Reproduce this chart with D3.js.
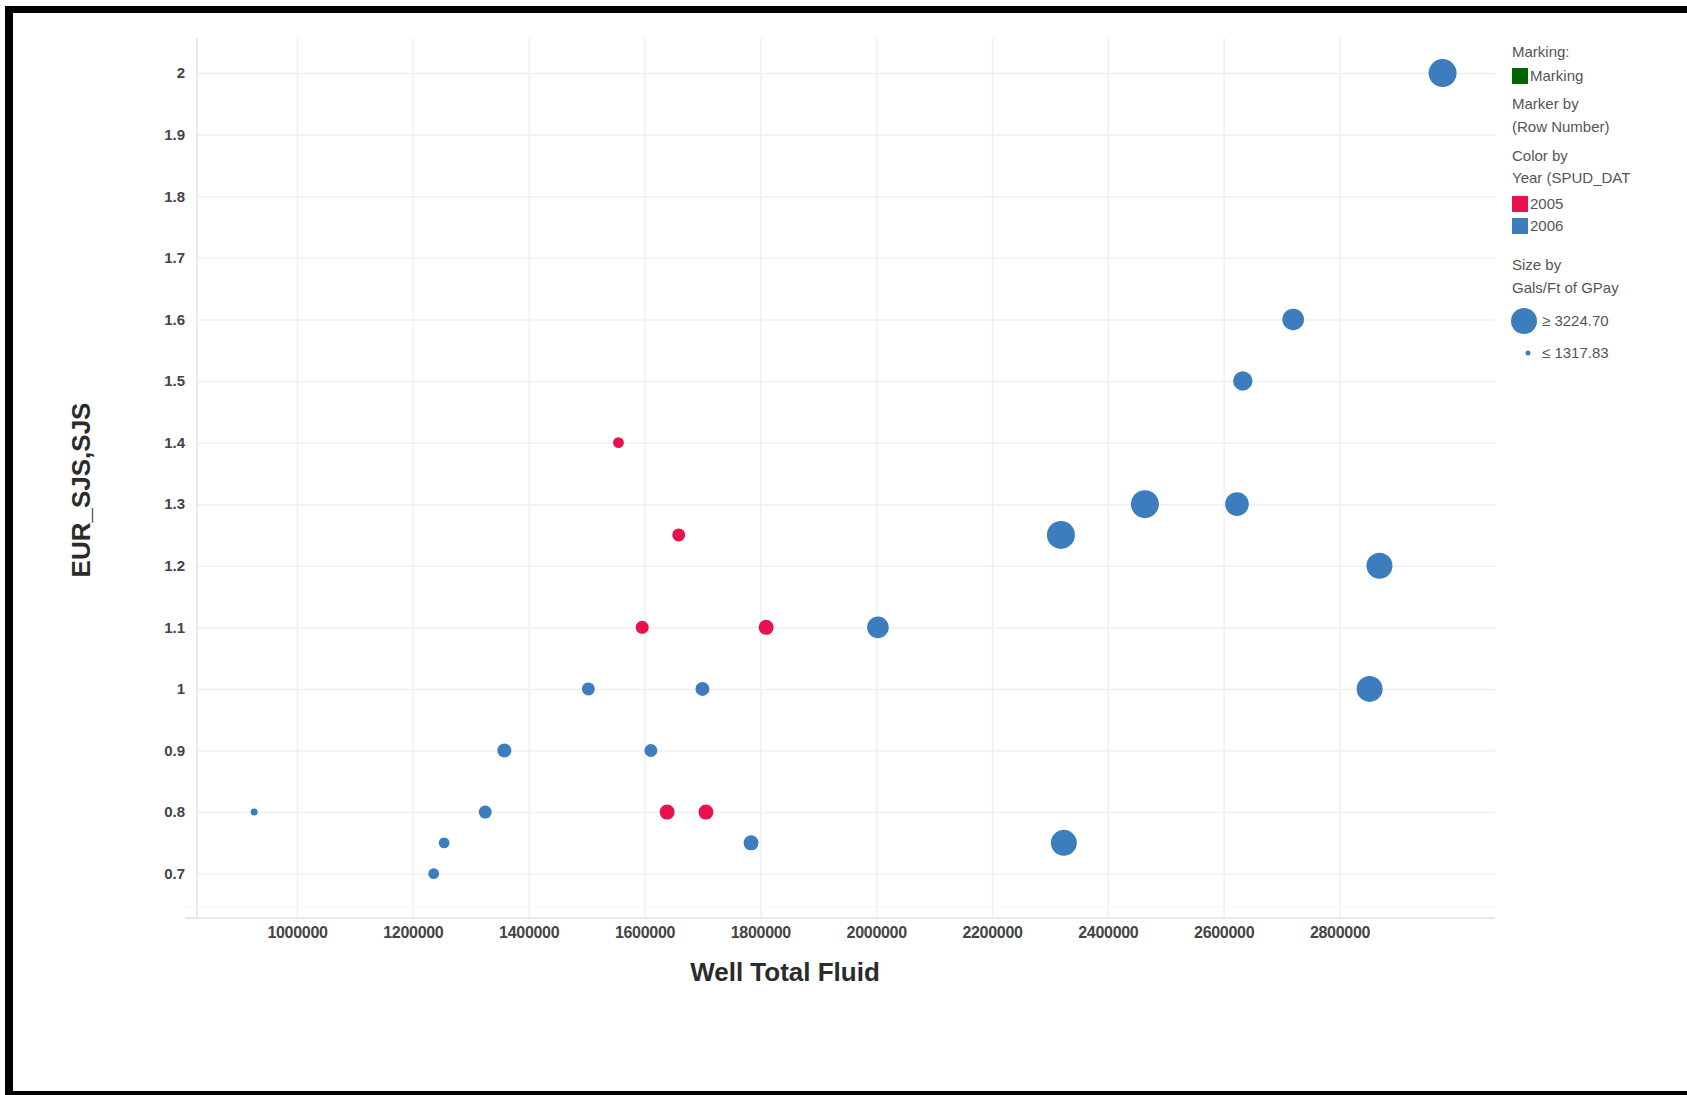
<!DOCTYPE html>
<html>
<head>
<meta charset="utf-8">
<script src="https://cdn.jsdelivr.net/npm/d3@7"></script>
<style>
  html, body { margin: 0; padding: 0; background: #fff; }
  svg { display: block; }
</style>
</head>
<body>
<svg id="chart" width="1687" height="1095"></svg>
<script>
// ---- Data ----
const wellTotalFluid = [2978000, 2720000, 2633000, 1555000, 2464000, 2623000, 2319000, 1659000,
  2869000, 1596000, 1810000, 2003000, 1503000, 1700000, 2852000, 1358000, 1611000,
  926000, 1325000, 1639000, 1706000, 1254000, 1784000, 2324000, 1236000];
const eurSJS = [2.0, 1.6, 1.5, 1.4, 1.3, 1.3, 1.25, 1.25,
  1.2, 1.1, 1.1, 1.1, 1.0, 1.0, 1.0, 0.9, 0.9,
  0.8, 0.8, 0.8, 0.8, 0.75, 0.75, 0.75, 0.7];
const spudYear = ["2006", "2006", "2006", "2005", "2006", "2006", "2006", "2005",
  "2006", "2005", "2005", "2006", "2006", "2006", "2006", "2006", "2006",
  "2006", "2006", "2005", "2005", "2006", "2006", "2006", "2006"];
const galsPerFt = [3224.70, 2644, 2444, 1663, 3224.70, 2825, 3224.70, 1863,
  3043, 1863, 2044, 2644, 1863, 1954, 3043, 1954, 1863,
  1317.83, 1863, 2044, 2044, 1663, 2044, 3043, 1663];

const xTicks = [1000000, 1200000, 1400000, 1600000, 1800000, 2000000, 2200000, 2400000, 2600000, 2800000];
const yTicks = [0.7, 0.8, 0.9, 1.0, 1.1, 1.2, 1.3, 1.4, 1.5, 1.6, 1.7, 1.8, 1.9, 2.0];
const yearCategories = ["2005", "2006"];
const yearColors = ["#e8114e", "#3d7cbd"];
const sizeExtent = [1317.83, 3224.70];
const legendTitles = ["Marking:", "Marker by", "(Row Number)", "Color by", "Year (SPUD_DAT", "Size by", "Gals/Ft of GPay"];

// ---- Layout ----
const svg = d3.select("#chart");
const plot = { left: 197, right: 1495, top: 38, bottom: 918 };

const x = d3.scaleLinear().domain([827300, 3068500]).range([plot.left, plot.right]);
const y = d3.scaleLinear().domain([0.628, 2.057]).range([plot.bottom, plot.top]);
const r = d3.scaleLinear().domain(sizeExtent).range([3.5, 14]);
const color = d3.scaleOrdinal().domain(yearCategories).range(yearColors);

// frame
svg.append("rect").attr("x", 0).attr("y", 0).attr("width", 1687).attr("height", 1095).attr("fill", "#fff");
svg.append("rect").attr("x", 5).attr("y", 6).attr("width", 1700).attr("height", 7).attr("fill", "#000");
svg.append("rect").attr("x", 5).attr("y", 6).attr("width", 8).attr("height", 1095).attr("fill", "#000");
svg.append("rect").attr("x", 5).attr("y", 1091).attr("width", 1700).attr("height", 4).attr("fill", "#000");

// gridlines
const gGridY = svg.append("g").attr("transform", `translate(${plot.left},0)`)
  .call(d3.axisLeft(y).tickValues(yTicks).tickSize(-(plot.right - plot.left)).tickFormat(""));
gGridY.select(".domain").remove();
gGridY.selectAll("line").attr("stroke", "#f0f0f0").attr("stroke-width", 1.5);

const gGridX = svg.append("g").attr("transform", `translate(0,${plot.bottom})`)
  .call(d3.axisBottom(x).tickValues(xTicks).tickSize(-(plot.bottom - plot.top)).tickFormat(""));
gGridX.select(".domain").remove();
gGridX.selectAll("line").attr("stroke", "#f0f0f0").attr("stroke-width", 1.5);

// axis lines
svg.append("line").attr("x1", plot.left).attr("x2", plot.left).attr("y1", plot.top).attr("y2", plot.bottom)
  .attr("stroke", "#e2e2e2").attr("stroke-width", 1.5);
svg.append("line").attr("x1", plot.left - 12).attr("x2", plot.right).attr("y1", plot.bottom).attr("y2", plot.bottom)
  .attr("stroke", "#e2e2e2").attr("stroke-width", 1.5);
svg.append("line").attr("x1", plot.left - 12).attr("x2", plot.right).attr("y1", plot.bottom - 11).attr("y2", plot.bottom - 11)
  .attr("stroke", "#f4f4f4").attr("stroke-width", 1);

// tick labels via axes
const yAxis = svg.append("g").attr("transform", `translate(${plot.left},0)`)
  .call(d3.axisLeft(y).tickValues(yTicks).tickSize(0).tickPadding(12).tickFormat(d3.format("~g")));
yAxis.select(".domain").remove();
yAxis.selectAll("text").attr("font-family", "Liberation Sans, Arial, sans-serif")
  .attr("font-size", 15).attr("font-weight", "bold").attr("fill", "#444");

const xAxis = svg.append("g").attr("transform", `translate(0,${plot.bottom})`)
  .call(d3.axisBottom(x).tickValues(xTicks).tickSize(0).tickPadding(9).tickFormat(d3.format("d")));
xAxis.select(".domain").remove();
xAxis.selectAll("text").attr("font-family", "Liberation Sans, Arial, sans-serif")
  .attr("font-size", 16).attr("font-weight", "bold").attr("fill", "#444")
  .attr("letter-spacing", "-0.3");

// axis titles
svg.append("text").attr("x", 785).attr("y", 981).attr("text-anchor", "middle")
  .attr("font-family", "Liberation Sans, Arial, sans-serif").attr("font-size", 26).attr("font-weight", "bold")
  .attr("fill", "#2b2b2b").text("Well Total Fluid");
svg.append("text").attr("transform", "translate(90,490) rotate(-90)").attr("text-anchor", "middle")
  .attr("font-family", "Liberation Sans, Arial, sans-serif").attr("font-size", 26).attr("font-weight", "bold")
  .attr("fill", "#2b2b2b").text("EUR_SJS,SJS");

// points (draw larger first)
const pts = wellTotalFluid.map((v, i) => ({ xv: v, yv: eurSJS[i], year: spudYear[i], size: galsPerFt[i] }))
  .sort((a, b) => b.size - a.size);
svg.append("g").selectAll("circle").data(pts).join("circle")
  .attr("cx", d => x(d.xv)).attr("cy", d => y(d.yv)).attr("r", d => r(d.size))
  .attr("fill", d => color(d.year));

// legend
const lg = svg.append("g").attr("font-family", "Liberation Sans, Arial, sans-serif").attr("font-size", 15).attr("fill", "#555");
const lx = 1512;
lg.append("text").attr("x", lx).attr("y", 57).text(legendTitles[0]);
lg.append("rect").attr("x", lx).attr("y", 68).attr("width", 16).attr("height", 16).attr("fill", "#006400");
lg.append("text").attr("x", lx + 18).attr("y", 81).text("Marking");
lg.append("text").attr("x", lx).attr("y", 109).text(legendTitles[1]);
lg.append("text").attr("x", lx).attr("y", 132).text(legendTitles[2]);
lg.append("text").attr("x", lx).attr("y", 161).text(legendTitles[3]);
lg.append("text").attr("x", lx).attr("y", 183).text(legendTitles[4]);
yearCategories.forEach((c, i) => {
  lg.append("rect").attr("x", lx).attr("y", 196 + i * 22).attr("width", 16).attr("height", 16).attr("fill", color(c));
  lg.append("text").attr("x", lx + 18).attr("y", 209 + i * 22).text(c);
});
lg.append("text").attr("x", lx).attr("y", 270).text(legendTitles[5]);
lg.append("text").attr("x", lx).attr("y", 293).text(legendTitles[6]);
lg.append("circle").attr("cx", 1524).attr("cy", 321).attr("r", r(sizeExtent[1]) - 1).attr("fill", yearColors[1]);
lg.append("text").attr("x", 1542).attr("y", 326).text("\u2265 " + d3.format(".2f")(sizeExtent[1]));
lg.append("circle").attr("cx", 1528).attr("cy", 353).attr("r", 2.5).attr("fill", yearColors[1]);
lg.append("text").attr("x", 1542).attr("y", 358).text("\u2264 " + d3.format(".2f")(sizeExtent[0]));
</script>
</body>
</html>
